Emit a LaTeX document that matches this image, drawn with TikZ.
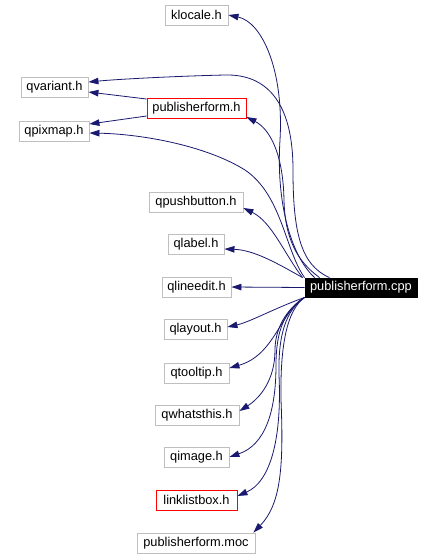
\documentclass[tikz,border=0pt]{standalone}
\usepackage{fontspec}
\setmainfont{Liberation Sans}
\usetikzlibrary{arrows.meta}
\definecolor{edgec}{HTML}{191970}
\definecolor{boxgray}{HTML}{BFBFBF}
\tikzset{
  filebox/.style={draw=boxgray,line width=0.9pt,fill=white,inner sep=0pt,minimum height=20pt,
    font=\fontsize{12.8}{15}\selectfont,text=black},
  redbox/.style={filebox,draw=red},
  mainbox/.style={filebox,draw=black,fill=black,text=white,minimum height=19pt},
  dep/.style={draw=edgec,line width=0.8pt,-{Triangle[length=10pt,width=6.5pt]},color=edgec}
}
\begin{document}
\begin{tikzpicture}[x=1pt,y=-1pt]
\useasboundingbox[fill=white] (0,0) rectangle (433,558);
\node[filebox,minimum width=63pt] (klocale) at (196.5,15) {klocale.h};
\node[filebox,minimum width=67pt] (qvariant) at (54.5,87) {qvariant.h};
\node[redbox,minimum width=99pt] (pubh) at (196.5,108) {publisherform.h};
\node[filebox,minimum width=70pt] (qpixmap) at (54,131) {qpixmap.h};
\node[filebox,minimum width=94pt] (qpushbutton) at (196,202) {qpushbutton.h};
\node[filebox,minimum width=56pt] (qlabel) at (196,244) {qlabel.h};
\node[filebox,minimum width=69pt] (qlineedit) at (196.5,287) {qlineedit.h};
\node[mainbox,minimum width=112pt] (cpp) at (361,287.5) {publisherform.cpp};
\node[filebox,minimum width=63pt] (qlayout) at (195.5,329) {qlayout.h};
\node[filebox,minimum width=65pt] (qtooltip) at (196.5,373) {qtooltip.h};
\node[filebox,minimum width=84pt] (qwhatsthis) at (197,415) {qwhatsthis.h};
\node[filebox,minimum width=65pt] (qimage) at (196.5,457) {qimage.h};
\node[redbox,minimum width=81pt] (linklistbox) at (196.5,500) {linklistbox.h};
\node[filebox,minimum width=118pt] (moc) at (196,543) {publisherform.moc};

% edges from publisherform.cpp
\draw[dep] ([xshift=10pt]cpp.north west) .. controls (290,255) and (276,200) .. (280,140)
  .. controls (284,70) and (262,22) .. (klocale.east);
\draw[dep] ([xshift=25pt]cpp.north west) .. controls (300,265) and (293,230) .. (293,170)
  .. controls (293,100) and (265,74) .. (225,75) .. controls (180,76) and (120,79) .. ([yshift=5pt]qvariant.east);
\draw[dep] ([xshift=15pt]cpp.north west) .. controls (298,262) and (285,240) .. (284,200)
  .. controls (283,150) and (268,128) .. ([yshift=-9pt]pubh.east);
\draw[dep] (cpp.north west) .. controls (285,250) and (282,195) .. (245,170)
  .. controls (205,145) and (140,134) .. ([yshift=-2pt]qpixmap.east);
\draw[dep] ([xshift=-2pt]cpp.north west) .. controls (285,255) and (272,222) .. ([yshift=-6pt]qpushbutton.east);
\draw[dep] ([xshift=-2pt]cpp.north west) .. controls (280,265) and (255,250) .. ([yshift=-5pt]qlabel.east);
\draw[dep] (cpp.west) -- (qlineedit.east);
\draw[dep] (cpp.south west) .. controls (275,308) and (250,322) .. ([yshift=2pt]qlayout.east);
\draw[dep] (cpp.south west) .. controls (280,312) and (275,355) .. ([yshift=5pt]qtooltip.east);
\draw[dep] (cpp.south west) .. controls (285,310) and (275,330) .. (275,350)
  .. controls (275,380) and (260,398) .. ([yshift=4pt]qwhatsthis.east);
\draw[dep] (cpp.south west) .. controls (285,310) and (276,330) .. (276,365)
  .. controls (276,412) and (265,445) .. (qimage.east);
\draw[dep] (cpp.south west) .. controls (286,310) and (278,335) .. (279,375)
  .. controls (282,440) and (270,482) .. ([yshift=4pt]linklistbox.east);
\draw[dep] (cpp.south west) .. controls (287,310) and (280,345) .. (281,400)
  .. controls (284,470) and (280,505) .. ([xshift=-2pt]moc.north east);
% edges from publisherform.h
\draw[dep] ([yshift=9pt]pubh.west) -- ([yshift=-5pt]qvariant.east);
\draw[dep] ([yshift=-8pt]pubh.west) -- ([yshift=7pt]qpixmap.east);
\end{tikzpicture}
\end{document}
